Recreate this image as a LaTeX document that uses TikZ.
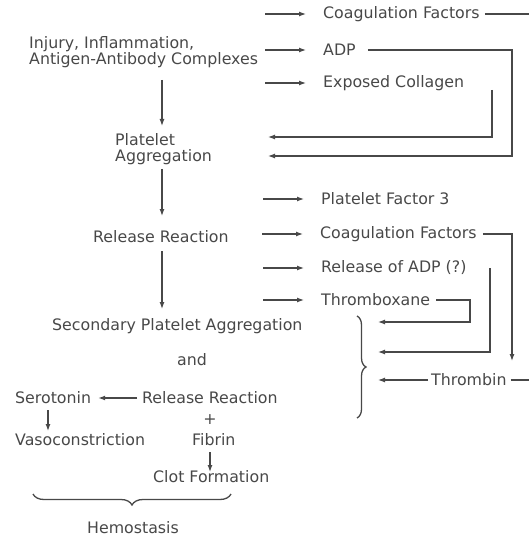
\documentclass[tikz,border=0pt]{standalone}
\usepackage{fontspec}
\setmainfont{DejaVu Sans}
\usetikzlibrary{arrows.meta,decorations.pathreplacing}
\definecolor{ink}{RGB}{72,72,72}
\begin{document}
\begin{tikzpicture}[x=1pt,y=-1pt,
  txt/.style={font=\fontsize{15.8}{15.5}\selectfont, text=ink, inner sep=0pt, anchor=west, align=left},
  ln/.style={draw=ink, line width=1.2pt},
  arr/.style={ln, -{Latex[length=7pt,width=5pt]}},
  brc/.style={ln, line width=1.3pt, decorate}]
\useasboundingbox (0,0) rectangle (529,537);
% texts
\node[txt] (cf1) at (323,14) {Coagulation Factors};
\node[txt] (inj) at (29,52) {Injury, Inflammation,\\Antigen-Antibody Complexes};
\node[txt] (adp) at (323,50) {ADP};
\node[txt] (col) at (323,83) {Exposed Collagen};
\node[txt] (pa) at (115,149) {Platelet\\Aggregation};
\node[txt] (pf3) at (321,199) {Platelet Factor 3};
\node[txt] (rr) at (93,237) {Release Reaction};
\node[txt] (cf2) at (320,234) {Coagulation Factors};
\node[txt] (radp) at (321,268) {Release of ADP (?)};
\node[txt] (tbx) at (321,300) {Thromboxane};
\node[txt] (spa) at (52,326) {Secondary Platelet Aggregation};
\node[txt,anchor=center] (and) at (192,360) {and};
\node[txt] (thr) at (431,380) {Thrombin};
\node[txt] (sero) at (15,398) {Serotonin};
\node[txt] (rr2) at (142,398) {Release Reaction};
\node[txt,anchor=center] (plus) at (210,420) {+};
\node[txt] (fib) at (192,440) {Fibrin};
\node[txt] (vaso) at (15,440) {Vasoconstriction};
\node[txt] (clot) at (153,477) {Clot Formation};
\node[txt,anchor=center] (hemo) at (133,528) {Hemostasis};
% free ends
\coordinate (pa1) at (268,137);
\coordinate (pa2) at (268,156);
\coordinate (s1) at (378,322);
\coordinate (s2) at (378,352);
\coordinate (s3) at (378,380);
\coordinate (edge1) at (529,14);
\coordinate (edge2) at (529,380);
% arrows into right column
\foreach \n in {cf1,adp,col,pf3,cf2,radp,tbx}
  \draw[arr] ([xshift=-58pt]\n.west) -- ([xshift=-17pt]\n.west);
% main column
\draw[arr] (162,80) -- (162,126);
\draw[arr] (162,169) -- (162,216);
\draw[arr] (162,251) -- (162,309);
% return loops
\draw[ln] ([xshift=5pt]cf1.east) -- (edge1);
\draw[arr] ([xshift=12pt]adp.east) -| (512,156) -- (pa2);
\draw[arr] (492,90) -- (492,137) -- (pa1);
\draw[arr] ([xshift=6pt]cf2.east) -| (512,361);
\draw[arr] (490,268) -- (490,352) -- (s2);
\draw[arr] ([xshift=6pt]tbx.east) -| (470,322) -- (s1);
\draw[arr] ([xshift=-3pt]thr.west) -- (s3);
\draw[ln] ([xshift=4pt]thr.east) -- (edge2);
% braces
\draw[brc, decoration={brace,amplitude=9pt}] (357,316) -- (357,418);
\draw[brc, decoration={brace,mirror,amplitude=11pt}] (33,494) -- (231,494);
% bottom
\draw[arr] ([xshift=-5pt]rr2.west) -- ([xshift=7pt]sero.east);
\draw[arr] (48,410) -- (48,431);
\draw[arr] (210,452) -- (210,472);
\end{tikzpicture}
\end{document}
